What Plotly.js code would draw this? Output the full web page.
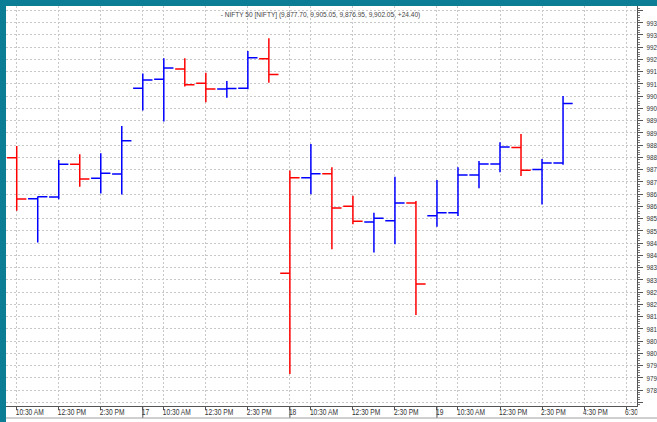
<!DOCTYPE html>
<html><head><meta charset="utf-8">
<script src="https://cdn.plot.ly/plotly-3.0.1.min.js"></script>
<style>
html,body{margin:0;padding:0;overflow:hidden;width:657px;height:422px;background:#fff;}
#frame{position:absolute;left:0;top:0;width:680px;height:422px;background:#0b7d94;}
#chart{position:absolute;left:6px;top:6px;width:674px;height:416px;background:#fff;}
</style></head><body>
<div id="frame"><div id="chart"></div></div>
<script>
// ---- data (hourly bars, NIFTY 50, 16-19 May) ----
const times = [
  "16 10:30","16 11:30","16 12:30","16 13:30","16 14:30","16 15:30",
  "17 09:30","17 10:30","17 11:30","17 12:30","17 13:30","17 14:30","17 15:30",
  "18 09:30","18 10:30","18 11:30","18 12:30","18 13:30","18 14:30","18 15:30",
  "19 09:30","19 10:30","19 11:30","19 12:30","19 13:30","19 14:30","19 15:30"
];
const futureSlots = ["19 16:30","19 17:30","19 18:30"];
const openV  = [9879.9,9863.1,9863.8,9877.2,9871.5,9873.2, 9908.2,9911.9,9916.1,9910.3,9907.9,9908.2,9920.3, 9832.7,9871.7,9873.3,9860.0,9853.6,9854.1,9861.4, 9856.2,9857.4,9872.8,9877.3,9884.0,9875.1,9877.70];
const highV  = [9884.65,9864.0,9878.9,9881.3,9881.7,9892.8, 9914.3,9920.5,9920.5,9914.6,9911.2,9923.4,9928.6, 9874.6,9885.5,9876.0,9864.3,9857.4,9872.1,9862.2, 9870.8,9876.0,9878.5,9886.2,9889.5,9879.3,9905.05];
const lowV   = [9858.2,9845.2,9862.9,9868.0,9865.3,9864.8, 9899.1,9894.7,9908.9,9902.5,9904.4,9907.8,9910.5, 9791.5,9864.9,9842.5,9852.7,9841.2,9844.5,9815.6, 9851.7,9856.1,9867.4,9873.9,9872.4,9860.8,9876.95];
const closeV = [9863.0,9863.9,9877.2,9871.2,9873.5,9886.8, 9911.6,9916.5,9909.7,9907.9,9908.1,9920.7,9913.8, 9871.7,9873.3,9859.3,9853.9,9855.1,9861.4,9828.3, 9857.4,9872.8,9877.3,9884.2,9874.7,9877.7,9902.05];
const tickTimes  = ["16 10:30","16 12:30","16 14:30","17 09:30","17 10:30","17 12:30","17 14:30","18 09:30","18 10:30","18 12:30","18 14:30","19 09:30","19 10:30","19 12:30","19 14:30","19 16:30","19 18:30"];
const tickLabels = ["10:30 AM","12:30 PM","2:30 PM","17","10:30 AM","12:30 PM","2:30 PM","18","10:30 AM","12:30 PM","2:30 PM","19","10:30 AM","12:30 PM","2:30 PM","4:30 PM","6:30 PM"];
const dayLabels = ["17","18","19"];
const yTickVals = [];
for (let v = 9780; v <= 9940; v += 5) yTickVals.push(v);
const titleText = "- NIFTY 50 [NIFTY] (9,877.70, 9,905.05, 9,876.95, 9,902.05, +24.40)";

// ---- build ----
const slots = times.concat(futureSlots);
const xIdx = times.map(t => slots.indexOf(t));
const up = closeV.map((c, i) => i === 0 ? c >= openV[i] : c >= closeV[i - 1]);
function pick(arr, flag) { return arr.filter((_, i) => up[i] === flag); }
const BLUE = "#0000ff", RED = "#ff0000";
function trace(flag, col) {
  return {
    type: "ohlc",
    x: pick(xIdx, flag), open: pick(openV, flag), high: pick(highV, flag),
    low: pick(lowV, flag), close: pick(closeV, flag),
    increasing: {line: {color: col, width: 1.5}},
    decreasing: {line: {color: col, width: 1.5}},
    tickwidth: 0.46, hoverinfo: "skip", showlegend: false
  };
}
const FONT = "'Liberation Sans', Arial, sans-serif";
const tickvals = tickTimes.map(t => slots.indexOf(t));
const plotH = 400, plotW = 631;
const shapes = [];
tickTimes.forEach((t, i) => {
  if (dayLabels.indexOf(tickLabels[i]) >= 0) {
    shapes.push({type: "line", xref: "x", yref: "paper", x0: tickvals[i], x1: tickvals[i], y0: 0, y1: -12 / plotH, line: {color: "#555", width: 1}});
  }
});
shapes.push({type: "rect", xref: "paper", yref: "paper", x0: 1 + 0.5 / plotW, x1: 1 + 43 / plotW, y0: -1 / plotH, y1: -11.5 / plotH, fillcolor: "#fff", line: {width: 0}, layer: "above"});
shapes.push({type: "line", xref: "paper", yref: "paper", x0: 0, x1: 1 + 43 / plotW, y0: -12 / plotH, y1: -12 / plotH, line: {color: "#a0a0a0", width: 1}, layer: "above"});

const layout = {
  width: 674, height: 416,
  margin: {l: 0, r: 43, t: 0, b: 16, pad: 0},
  paper_bgcolor: "#fff", plot_bgcolor: "#fff",
  showlegend: false,
  font: {family: FONT, size: 8, color: "#333"},
  title: {text: titleText, x: 0.4666, xanchor: "center", xref: "container", y: 0.98, yanchor: "middle", yref: "container",
          font: {family: FONT, size: 8, color: "#444"}},
  xaxis: {
    type: "linear", range: [-0.51, 29.52], fixedrange: true,
    rangeslider: {visible: false},
    tickmode: "array", tickvals: tickvals, ticktext: tickLabels, tickangle: 0,
    showgrid: true, gridcolor: "#c8c8c8", griddash: "2px,2px", gridwidth: 1,
    zeroline: false, showline: true, linecolor: "#555", linewidth: 1,
    ticks: "outside", ticklen: 3, tickcolor: "#555",
    ticklabelposition: "outside right", ticklabelstandoff: -2, ticklabelshift: -2,
    tickfont: {family: FONT, size: 8.5, color: "#333"}
  },
  yaxis: {
    side: "right", range: [9778.47, 9941.82], fixedrange: true,
    tickmode: "array", tickvals: yTickVals,
    ticktext: yTickVals.map(v => (v === 9940 || v === 9780) ? "" : String(v)),
    showgrid: true, gridcolor: "#c8c8c8", griddash: "2px,2px", gridwidth: 1,
    zeroline: false, showline: true, linecolor: "#555", linewidth: 1,
    ticks: "outside", ticklen: 5, tickcolor: "#555", ticklabelstandoff: 2,
    minor: {tickmode: "linear", tick0: 9780, dtick: 1, ticks: "outside", ticklen: 2, tickcolor: "#777", showgrid: false},
    tickfont: {family: FONT, size: 8, color: "#333"}
  },
  shapes: shapes
};
function squeeze() {
  document.querySelectorAll("#chart svg text").forEach(el => {
    const len = el.getComputedTextLength();
    if (len > 0) {
      const f = el.classList.contains("gtitle") ? 0.82 : 0.78;
      el.setAttribute("textLength", (len * f).toFixed(2));
      el.setAttribute("lengthAdjust", "spacingAndGlyphs");
    }
  });
}
Plotly.newPlot("chart", [trace(true, BLUE), trace(false, RED)], layout, {staticPlot: true, displayModeBar: false}).then(squeeze);
</script>
</body></html>
